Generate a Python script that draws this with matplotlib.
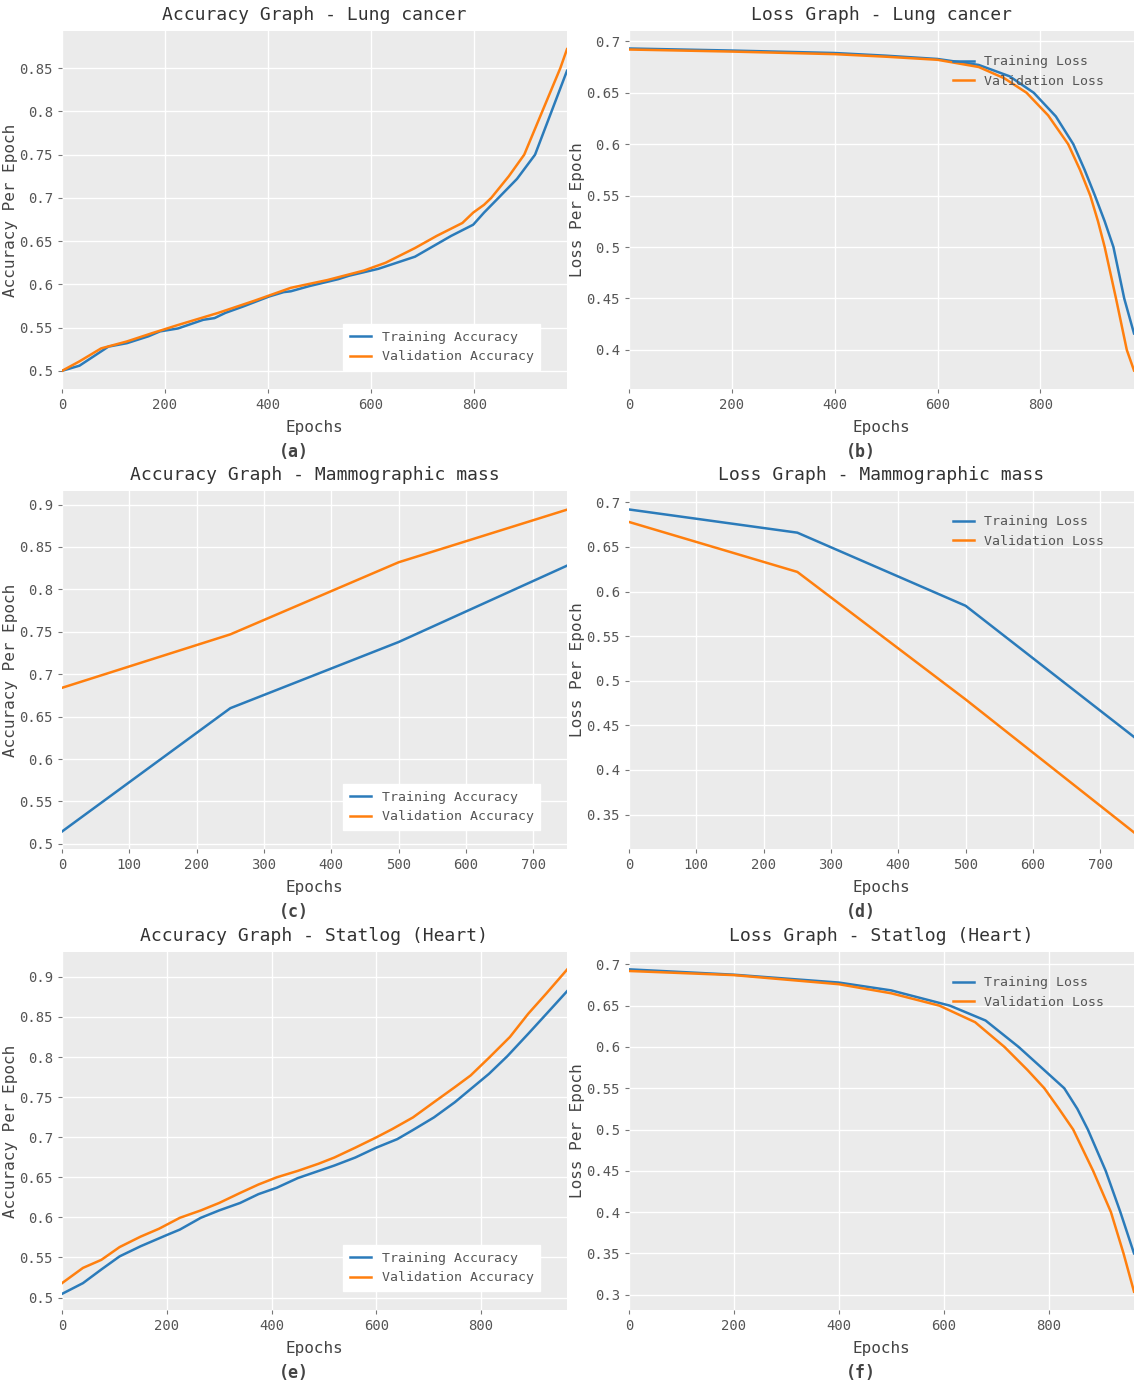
import matplotlib
matplotlib.use("Agg")
import matplotlib.pyplot as plt

plt.rcParams['font.family'] = ['DejaVu Sans Mono']

# (a) Accuracy - Lung cancer
a_ep_tr = [0, 34, 90, 126, 168, 190, 225, 274, 296, 317, 352, 402, 430, 444, 480, 536, 557, 614, 685, 720, 755, 798, 819, 847, 883, 918, 950, 980]
a_tr = [0.5, 0.506, 0.528, 0.532, 0.540, 0.5456, 0.549, 0.559, 0.561, 0.567, 0.5745, 0.586, 0.591, 0.592, 0.598, 0.606, 0.610, 0.618, 0.632, 0.644, 0.656, 0.669, 0.683, 0.700, 0.722, 0.750, 0.800, 0.847]
a_ep_va = [0, 34, 76, 126, 175, 225, 303, 373, 444, 515, 586, 628, 685, 727, 777, 798, 819, 833, 867, 897, 932, 967, 980]
a_va = [0.5, 0.511, 0.526, 0.534, 0.5436, 0.553, 0.567, 0.581, 0.596, 0.605, 0.616, 0.625, 0.642, 0.656, 0.671, 0.683, 0.692, 0.700, 0.725, 0.750, 0.800, 0.850, 0.872]

# (b) Loss - Lung cancer
b_ep_tr = [0, 200, 400, 500, 600, 680, 740, 787, 830, 864, 886, 906, 925, 942, 963, 982]
b_tr = [0.693, 0.691, 0.6886, 0.686, 0.6828, 0.677, 0.666, 0.650, 0.627, 0.600, 0.575, 0.550, 0.525, 0.500, 0.450, 0.416]
b_ep_va = [0, 200, 400, 500, 600, 680, 730, 773, 815, 854, 877, 897, 912, 925, 947, 968, 982]
b_va = [0.692, 0.690, 0.6875, 0.685, 0.682, 0.675, 0.664, 0.650, 0.628, 0.600, 0.575, 0.550, 0.525, 0.500, 0.450, 0.400, 0.380]

# (c) Accuracy - Mammographic mass
c_ep = [0, 250, 500, 750]
c_tr = [0.5146, 0.660, 0.738, 0.828]
c_va = [0.684, 0.747, 0.832, 0.894]

# (d) Loss - Mammographic mass
d_ep = [0, 250, 500, 750]
d_tr = [0.692, 0.666, 0.584, 0.437]
d_va = [0.678, 0.622, 0.479, 0.330]

# (e) Accuracy - Statlog (Heart)
e_ep_tr = [0, 40, 75, 110, 150, 200, 225, 265, 300, 340, 375, 410, 450, 520, 560, 600, 640, 670, 710, 750, 780, 815, 850, 890, 925, 964]
e_tr = [0.5046, 0.518, 0.535, 0.5514, 0.564, 0.578, 0.5848, 0.5995, 0.6087, 0.618, 0.629, 0.637, 0.649, 0.6647, 0.6747, 0.687, 0.6976, 0.709, 0.7247, 0.7437, 0.760, 0.779, 0.801, 0.829, 0.854, 0.882]
e_ep_va = [0, 40, 75, 110, 150, 185, 225, 265, 300, 340, 375, 410, 450, 490, 520, 560, 600, 630, 670, 710, 750, 780, 815, 855, 890, 925, 964]
e_va = [0.518, 0.537, 0.547, 0.563, 0.576, 0.5858, 0.5995, 0.6087, 0.618, 0.6305, 0.641, 0.650, 0.658, 0.667, 0.6747, 0.687, 0.6998, 0.710, 0.7247, 0.7437, 0.7625, 0.777, 0.799, 0.825, 0.854, 0.8796, 0.909]

# (f) Loss - Statlog (Heart)
f_ep_tr = [0, 200, 400, 500, 612, 680, 743, 790, 830, 855, 875, 909, 937, 963]
f_tr = [0.694, 0.6875, 0.678, 0.6685, 0.650, 0.632, 0.600, 0.573, 0.550, 0.525, 0.500, 0.450, 0.400, 0.350]
f_ep_va = [0, 200, 400, 500, 592, 660, 716, 760, 792, 820, 847, 885, 919, 943, 963]
f_va = [0.692, 0.687, 0.676, 0.665, 0.650, 0.630, 0.600, 0.572, 0.550, 0.525, 0.500, 0.450, 0.400, 0.350, 0.3036]

BLUE = '#2b7bba'
ORANGE = '#ff7f0e'

fig = plt.figure(figsize=(11.34, 13.82), dpi=100)

W = 505 / 1134
H = 358 / 1382
lefts = [62 / 1134, 629 / 1134]
bottoms = [1 - 389 / 1382, 1 - 849 / 1382, 1 - 1310 / 1382]

panels = [
    ("Accuracy Graph - Lung cancer", a_ep_tr, a_tr, a_ep_va, a_va, (0, 980), (0.479, 0.893),
     [0.5, 0.55, 0.6, 0.65, 0.7, 0.75, 0.8, 0.85], [0, 200, 400, 600, 800], "acc", "(a)"),
    ("Loss Graph - Lung cancer", b_ep_tr, b_tr, b_ep_va, b_va, (0, 982), (0.362, 0.710),
     [0.4, 0.45, 0.5, 0.55, 0.6, 0.65, 0.7], [0, 200, 400, 600, 800], "loss", "(b)"),
    ("Accuracy Graph - Mammographic mass", c_ep, c_tr, c_ep, c_va, (0, 750), (0.494, 0.916),
     [0.5, 0.55, 0.6, 0.65, 0.7, 0.75, 0.8, 0.85, 0.9], [0, 100, 200, 300, 400, 500, 600, 700], "acc", "(c)"),
    ("Loss Graph - Mammographic mass", d_ep, d_tr, d_ep, d_va, (0, 750), (0.3114, 0.7127),
     [0.35, 0.4, 0.45, 0.5, 0.55, 0.6, 0.65, 0.7], [0, 100, 200, 300, 400, 500, 600, 700], "loss", "(d)"),
    ("Accuracy Graph - Statlog (Heart)", e_ep_tr, e_tr, e_ep_va, e_va, (0, 964), (0.4845, 0.931),
     [0.5, 0.55, 0.6, 0.65, 0.7, 0.75, 0.8, 0.85, 0.9], [0, 200, 400, 600, 800], "acc", "(e)"),
    ("Loss Graph - Statlog (Heart)", f_ep_tr, f_tr, f_ep_va, f_va, (0, 963), (0.2814, 0.715),
     [0.3, 0.35, 0.4, 0.45, 0.5, 0.55, 0.6, 0.65, 0.7], [0, 200, 400, 600, 800], "loss", "(f)"),
]

for i, (title, ex1, y1, ex2, y2, xl, yl, yt, xt, kind, tag) in enumerate(panels):
    row, col = divmod(i, 2)
    ax = fig.add_axes([lefts[col], bottoms[row], W, H])
    ax.set_facecolor('#ebebeb')
    for s in ax.spines.values():
        s.set_visible(False)
    ax.grid(True, color='white', linewidth=1.0)
    ax.set_axisbelow(True)

    if kind == "acc":
        ax.plot(ex1, y1, color=BLUE, lw=1.8, label="Training Accuracy")
        ax.plot(ex2, y2, color=ORANGE, lw=1.8, label="Validation Accuracy")
        ylab = "Accuracy Per Epoch"
        leg = ax.legend(loc='lower right', bbox_to_anchor=(0.96, 0.035), fontsize=9.5,
                        frameon=True, fancybox=False, handlelength=1.6, borderpad=0.5)
        leg.get_frame().set_facecolor('white')
        leg.get_frame().set_edgecolor('white')
        leg.get_frame().set_alpha(1)
    else:
        ax.plot(ex1, y1, color=BLUE, lw=1.8, label="Training Loss")
        ax.plot(ex2, y2, color=ORANGE, lw=1.8, label="Validation Loss")
        ylab = "Loss Per Epoch"
        leg = ax.legend(loc='upper right', bbox_to_anchor=(0.965, 0.965), fontsize=9.5,
                        frameon=False, handlelength=1.6)
    for t in leg.get_texts():
        t.set_color('#555555')

    ax.set_xlim(*xl)
    ax.set_ylim(*yl)
    ax.set_yticks(yt)
    ax.set_yticklabels([f"{v:g}" for v in yt])
    ax.set_xticks(xt)
    ax.tick_params(axis='both', colors='#777777', labelcolor='#555555', labelsize=10,
                   length=3, width=0.8)
    ax.set_title(title, fontsize=13, color='#333333', pad=8)
    ax.set_ylabel(ylab, fontsize=11.5, color='#444444', labelpad=1)
    ax.set_xlabel("Epochs", fontsize=11.5, color='#444444', labelpad=6)
    ax.text(0.46, -0.175, tag, transform=ax.transAxes, ha='center', va='center',
            fontsize=12, fontweight='bold', color='#444444')

fig.savefig("out.png", dpi=100)
